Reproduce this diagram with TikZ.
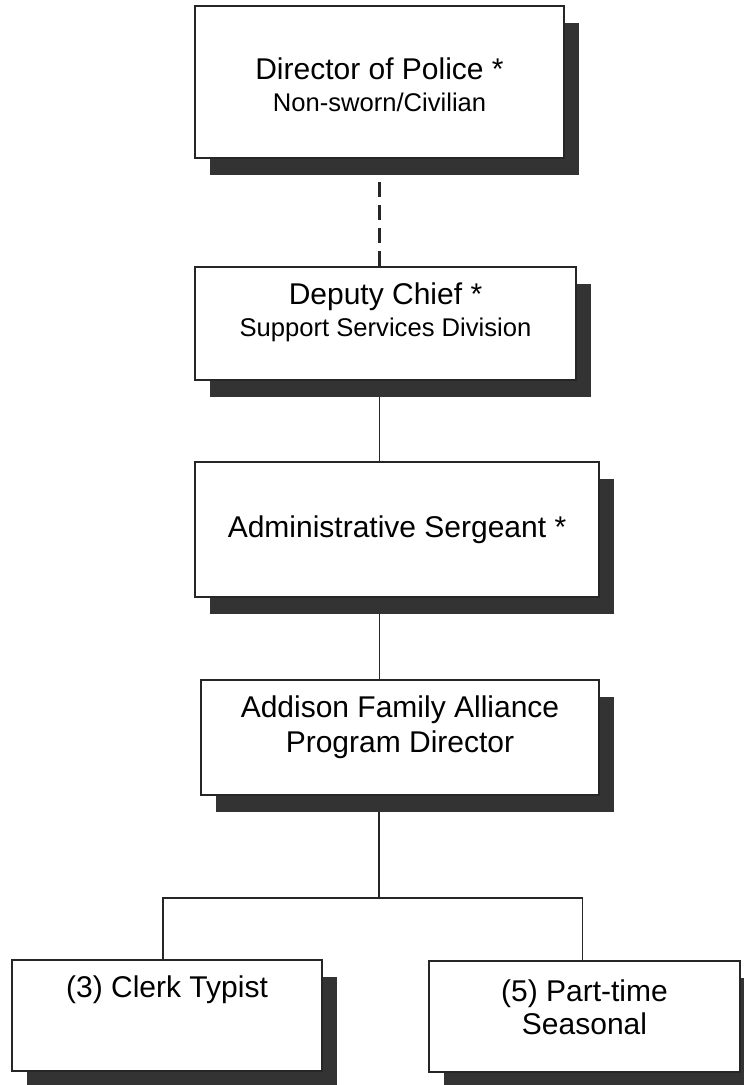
\documentclass[tikz,border=0pt]{standalone}
\usepackage{fontspec}
\setmainfont{Liberation Sans}
\usetikzlibrary{shadows,backgrounds}
\begin{document}
\begin{tikzpicture}[x=0.5pt, y=-0.5pt,
	box/.style={draw=black!85, line width=0.8pt, fill=white, inner sep=0pt,
		drop shadow={shadow xshift=7.5pt, shadow yshift=-8.5pt, fill=black!80, opacity=1}},
	link/.style={draw=black!85, line width=0.9pt},
	head/.style={inner sep=0pt, anchor=base, font=\fontsize{15}{18}\selectfont},
	sub/.style={inner sep=0pt, anchor=base, font=\fontsize{12.8}{15}\selectfont}]
	\useasboundingbox (0,0) rectangle (743,1085);

	\coordinate (fork) at (379,898);

	\node[box, minimum width=184.5pt, minimum height=76pt] (dir) at (379.5,82) {};
	\node[box, minimum width=190.5pt, minimum height=56.5pt] (dep) at (385.5,323.5) {};
	\node[box, minimum width=202pt, minimum height=67.5pt] (sgt) at (397,529.5) {};
	\node[box, minimum width=199pt, minimum height=57.5pt] (afa) at (400,737.5) {};
	\node[box, minimum width=155pt, minimum height=55.5pt] (clk) at (167,1015.5) {};
	\node[box, minimum width=155.5pt, minimum height=55.5pt] (pts) at (584.5,1016.5) {};

	\begin{scope}[on background layer]
		\draw[link, line width=1.3pt, dash pattern=on 7.5pt off 4pt] (dir.south) -- (dir.south |- dep.north);
		\draw[link] (dir.south |- dep.south) -- (dir.south |- sgt.north);
		\draw[link] (dir.south |- sgt.south) -- (dir.south |- afa.north);
		\draw[link] (fork |- afa.south) -- (fork) -| ([xshift=-2pt]clk.north);
		\draw[link] (fork) -| ([xshift=-1pt]pts.north);
	\end{scope}

	\node[head] (dir-h) at ([yshift=-37pt]dir.north) {Director of Police *};
	\node[sub] (dir-s) at ([yshift=-16pt]dir-h.base) {Non-sworn/Civilian};
	\node[head] (dep-h) at ([yshift=-19pt]dep.north) {Deputy Chief *};
	\node[sub] (dep-s) at ([yshift=-16pt]dep-h.base) {Support Services Division};
	\node[head] (sgt-h) at ([yshift=-38pt]sgt.north) {Administrative Sergeant *};
	\node[head] (afa-h) at ([yshift=-19pt]afa.north) {Addison Family Alliance};
	\node[head] (afa-s) at ([yshift=-17.5pt]afa-h.base) {Program Director};
	\node[head] (clk-h) at ([yshift=-19pt]clk.north) {(3) Clerk Typist};
	\node[head] (pts-h) at ([yshift=-20.5pt]pts.north) {(5) Part-time};
	\node[head] (pts-s) at ([yshift=-16.5pt]pts-h.base) {Seasonal};

\end{tikzpicture}
\end{document}
